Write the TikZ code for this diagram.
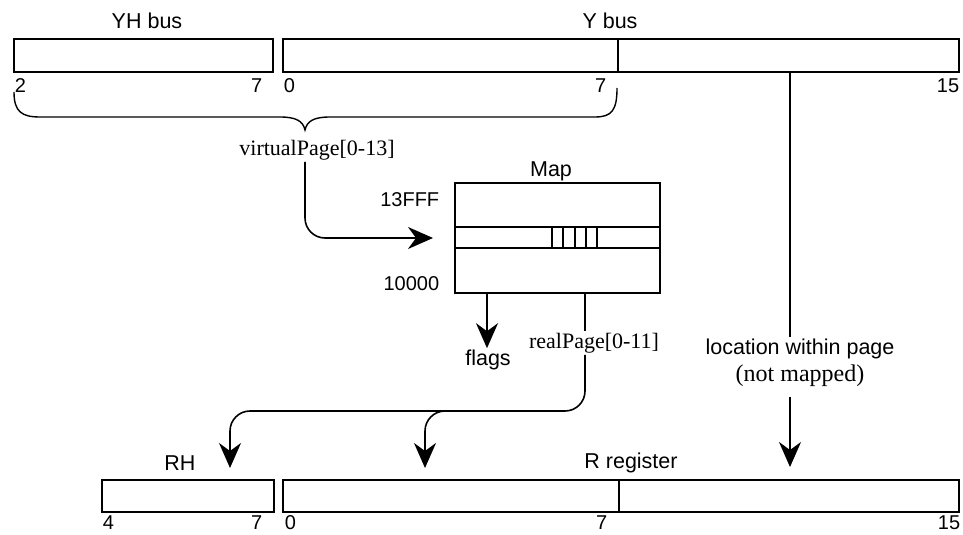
\documentclass[tikz,border=0pt]{standalone}
\usepackage{fontspec}
\setmainfont{Liberation Serif}
\setsansfont{Liberation Sans}
\usetikzlibrary{arrows.meta}
\begin{document}
\begin{tikzpicture}[x=1pt,y=-1pt, line width=1.6pt,
  regbox/.style={draw, line width=1.7pt, inner sep=0pt, outer sep=0pt},
  sans/.style={font=\sffamily\fontsize{21.5}{24}\selectfont, inner sep=1pt},
  hexlbl/.style={font=\sffamily\fontsize{20}{23}\selectfont, inner sep=1pt},
  serif/.style={font=\fontsize{22}{25}\selectfont, inner sep=1pt},
  digit/.style={font=\sffamily\fontsize{20}{23}\selectfont, inner sep=0pt},
  arr/.style={-{Stealth[length=25pt,width=22pt,inset=8pt]}},
  ]
\useasboundingbox (0,0) rectangle (963,535);

% --- top buses
\node[regbox, minimum width=259pt, minimum height=33pt] (yh) at (143.5,55.5) {};
\node[regbox, minimum width=676pt, minimum height=33pt] (ybus) at (621,55.5) {};
\coordinate (ydiv) at (618,0);
\draw[line width=1.3pt] (ybus.north -| ydiv) -- (ybus.south -| ydiv);
\node[sans] (yhlbl) at (147,21) {YH bus};
\node[sans] (ylbl) at (610,21) {Y bus};
\node[digit, anchor=west] (d2) at (14,86) {2};
\node[digit, anchor=east] (d7a) at (263,86) {7};
\node[digit, anchor=west] (d0a) at (283,86) {0};
\node[digit, anchor=east] (d7b) at (607,86) {7};
\node[digit, anchor=east] (d15a) at (960,86) {15};

% --- brace
\coordinate (brL) at (14,92);
\coordinate (brR) at (617,88);
\coordinate (brT) at (305,130);
\draw[line width=1.4pt] (brL) .. controls (14,112) and (22,117) .. (40,117)
  -- (280,117) .. controls (296,117) and (303,121) .. (brT)
  .. controls (307,121) and (314,117) .. (330,117)
  -- (595,117) .. controls (612,117) and (617,110) .. (brR);

\node[serif] (vp) at (317,150) {virtualPage[0-13]};

% --- Map
\node[regbox, minimum width=205pt, minimum height=110pt] (map) at (557.5,238) {};
\coordinate (s1) at (0,227);
\coordinate (s2) at (0,248);
\draw (map.west |- s1) -- (map.east |- s1);
\draw (map.west |- s2) -- (map.east |- s2);
\foreach \xx in {552,563,575,586,597}{
  \draw[line width=1.3pt] (\xx,227) -- (\xx,248);
}
\node[sans] (maplbl) at (551,171) {Map};
\node[hexlbl, anchor=east] (hi) at (441,200) {13FFF};
\node[hexlbl, anchor=east] (lo) at (441,284) {10000};

% virtualPage -> map
\coordinate (vpx) at (305,0);
\coordinate (vpin) at (433,238);
\draw[arr, rounded corners=20pt] (vpx |- vp.south) -- (vpx |- vpin) -- (vpin);

% flags
\node[sans] (flags) at (488,360) {flags};
\coordinate (fl) at (487,0);
\draw[arr] (map.south -| fl) -- (flags.north -| fl);

% realPage
\node[serif] (rp) at (594,343) {realPage[0-11]};
\coordinate (rpx) at (585,0);
\draw (map.south -| rpx) -- (rpx |- rp.north);

% --- bottom registers
\node[regbox, minimum width=172pt, minimum height=32pt] (rh) at (188,496) {};
\node[regbox, minimum width=676pt, minimum height=32pt] (rreg) at (621,496) {};
\coordinate (rdiv) at (619,0);
\draw[line width=1.3pt] (rreg.north -| rdiv) -- (rreg.south -| rdiv);
\node[sans] (rhlbl) at (180,463) {RH};
\node[sans] (rlbl) at (631,463) {R register};
\node[digit, anchor=west] (d4) at (102,523) {4};
\node[digit, anchor=east] (d7c) at (263,523) {7};
\node[digit, anchor=west] (d0b) at (284,523) {0};
\node[digit, anchor=east] (d7d) at (608,523) {7};
\node[digit, anchor=east] (d15b) at (961,523) {15};

% realPage -> RH and R register
\coordinate (rpmid) at (585,411);
\coordinate (tipRH) at (230,468);
\coordinate (tipR) at (425,468);
\draw[arr, rounded corners=20pt] (rpx |- rp.south) -- (rpmid) -- (tipRH |- rpmid) -- (tipRH);
\draw[arr, rounded corners=20pt] (455,411) -- (tipR |- rpmid) -- (tipR);

% location within page
\node[sans] (loc) at (800,349) {location within page};
\node[serif, font=\fontsize{24}{27}\selectfont] (nm) at (800,376) {(not mapped)};
\coordinate (lx) at (790,0);
\coordinate (tipL) at (790,467);
\draw (ybus.south -| lx) -- (lx |- loc.north);
\draw[arr] (lx |- nm.south) ++(0,8) -- (tipL);
\end{tikzpicture}
\end{document}
